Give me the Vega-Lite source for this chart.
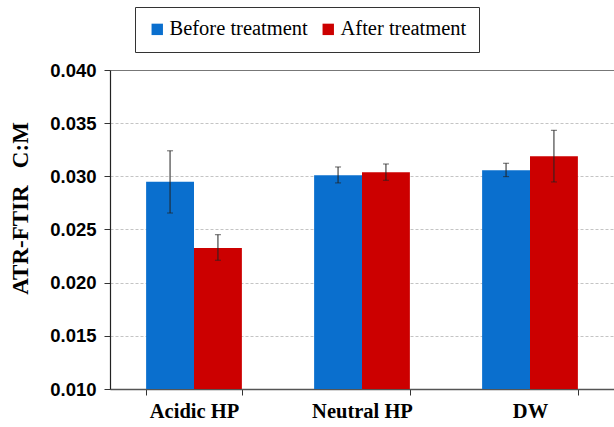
{
  "$schema": "https://vega.github.io/schema/vega-lite/v6.json",
  "width": 504,
  "height": 319,
  "autosize": {"type": "none"},
  "padding": {"left": 110, "top": 70, "right": 0, "bottom": 38},
  "background": "white",
  "config": {"view": {"stroke": null}},
  "data": {
    "values": [
      {"group": "Acidic HP", "phase": "Before treatment", "value": 0.0295, "lo": 0.02655, "hi": 0.0324},
      {"group": "Acidic HP", "phase": "After treatment", "value": 0.02326, "lo": 0.02211, "hi": 0.02451},
      {"group": "Neutral HP", "phase": "Before treatment", "value": 0.0301, "lo": 0.02938, "hi": 0.03088},
      {"group": "Neutral HP", "phase": "After treatment", "value": 0.03038, "lo": 0.02963, "hi": 0.03116},
      {"group": "DW", "phase": "Before treatment", "value": 0.03057, "lo": 0.02997, "hi": 0.03123},
      {"group": "DW", "phase": "After treatment", "value": 0.03189, "lo": 0.02947, "hi": 0.03433}
    ]
  },
  "encoding": {
    "x": {
      "field": "group",
      "type": "nominal",
      "sort": ["Acidic HP", "Neutral HP", "DW"],
      "scale": {"paddingInner": 0.43, "paddingOuter": 0.215},
      "axis": {
        "title": null,
        "labelAngle": 0,
        "labelFont": "Liberation Serif",
        "labelFontWeight": "bold",
        "labelFontSize": 20.5,
        "labelColor": "black",
        "labelPadding": 6,
        "tickBand": "extent",
        "tickSize": 6,
        "tickColor": "#333",
        "domainColor": "#555",
        "domainWidth": 1.5,
        "grid": false
      }
    },
    "xOffset": {"field": "phase", "type": "nominal", "sort": ["Before treatment", "After treatment"]}
  },
  "layer": [
    {
      "mark": {"type": "bar", "clip": true},
      "encoding": {
        "y": {
          "field": "value",
          "type": "quantitative",
          "scale": {"domain": [0.01, 0.04], "nice": false, "zero": false},
          "axis": {
            "values": [0.01, 0.015, 0.02, 0.025, 0.03, 0.035, 0.04],
            "format": ".3f",
            "labelFont": "Liberation Sans",
            "labelFontWeight": "bold",
            "labelFontSize": 18.5,
            "labelColor": "black",
            "labelPadding": 8,
            "tickSize": 6,
            "tickColor": "#333",
            "domainColor": "#222",
            "domainWidth": 1.2,
            "grid": true,
            "gridColor": {"condition": {"test": "datum.value >= 0.0399", "value": "#777"}, "value": "#c4c4c4"},
            "gridDash": {"condition": {"test": "datum.value >= 0.0399", "value": []}, "value": [3, 2]},
            "gridWidth": 1,
            "title": "ATR-FTIR\u00a0\u00a0\u00a0C:M",
            "titleFont": "Liberation Serif",
            "titleFontWeight": "bold",
            "titleFontSize": 23,
            "titleColor": "black",
            "titleX": -78,
            "titleY": 138
          }
        },
        "color": {
          "field": "phase",
          "type": "nominal",
          "sort": ["Before treatment", "After treatment"],
          "scale": {"domain": ["Before treatment", "After treatment"], "range": ["#0a6fce", "#cc0000"]},
          "legend": {
            "title": null,
            "orient": "none",
            "legendX": 25,
            "legendY": -63,
            "direction": "horizontal",
            "strokeColor": "#333",
            "padding": 12,
            "symbolType": "square",
            "symbolSize": 130,
            "symbolStrokeWidth": 0,
            "labelFont": "Liberation Serif",
            "labelFontSize": 20.5,
            "labelColor": "black",
            "labelOffset": 2,
            "columnPadding": 10,
            "fillColor": "white"
          }
        }
      }
    },
    {
      "mark": {"type": "rule", "color": "#222", "strokeWidth": 1},
      "encoding": {
        "y": {"field": "lo", "type": "quantitative"},
        "y2": {"field": "hi"}
      }
    },
    {
      "mark": {"type": "tick", "color": "#222", "orient": "horizontal", "size": 6, "thickness": 1},
      "encoding": {"y": {"field": "lo", "type": "quantitative"}}
    },
    {
      "mark": {"type": "tick", "color": "#222", "orient": "horizontal", "size": 6, "thickness": 1},
      "encoding": {"y": {"field": "hi", "type": "quantitative"}}
    }
  ]
}
